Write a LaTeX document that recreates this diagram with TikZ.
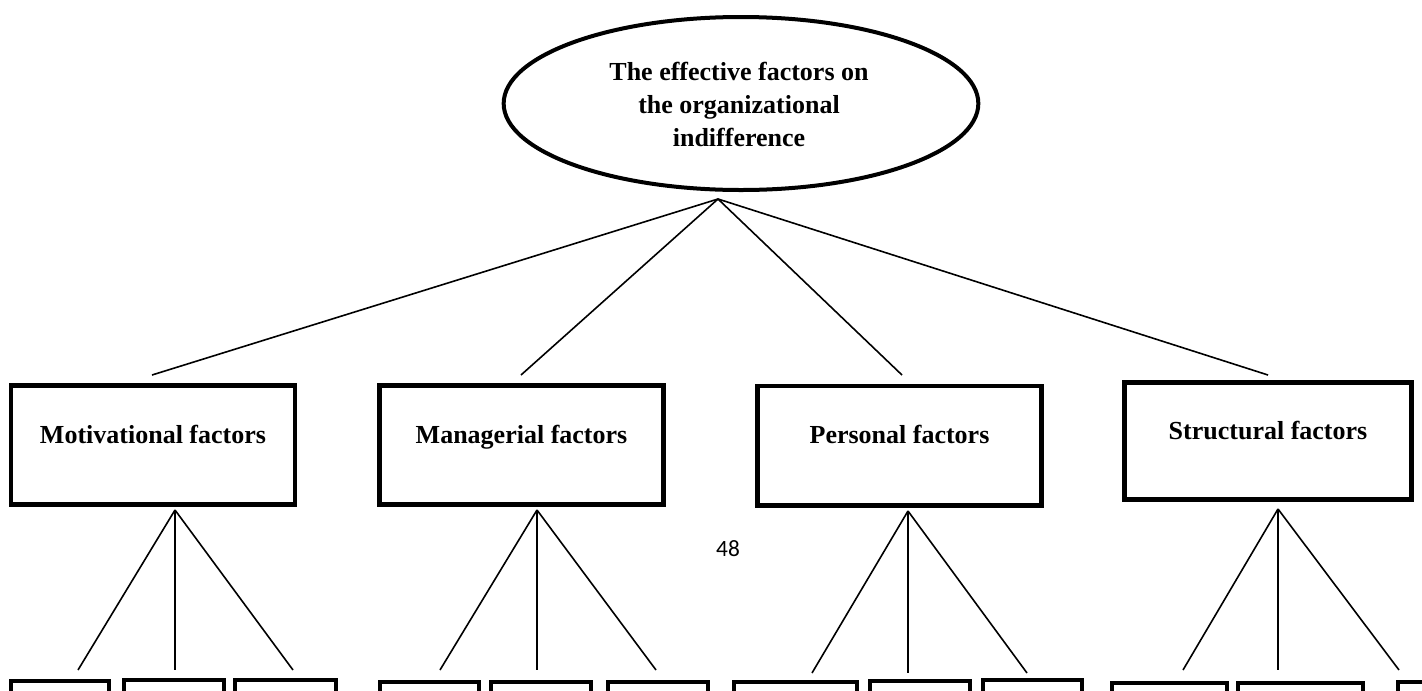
\documentclass[tikz,border=0pt]{standalone}
\usepackage{fontspec}
\setmainfont{Liberation Serif}
\newfontfamily\pagenumfont{Carlito}
\usetikzlibrary{shapes.geometric}
\begin{document}
\begin{tikzpicture}[x=0.75pt,y=-0.75pt,
  conn/.style={line width=1.2pt},
  topbox/.style={draw, line width=3.4pt, inner sep=0pt, minimum width=213pt, minimum height=89.6pt},
  leaf/.style={draw, line width=3pt, inner sep=0pt},
  lbl/.style={font=\fontsize{19.5pt}{24.75pt}\selectfont\bfseries, inner sep=0pt, anchor=base},
  oval/.style={draw, ellipse, line width=3pt, inner sep=0pt, minimum width=356pt, minimum height=129.75pt}]
\useasboundingbox (0,0) rectangle (1422,690);
\clip (0,0) rectangle (1422,690);
\fill[white] (0,0) rectangle (1422,690);

% root
\node[oval] (root) at (741,103.5) {};
\node[font=\fontsize{19.5pt}{24.75pt}\selectfont\bfseries, align=center, inner sep=0pt] (roottext) at (739,104)
  {The effective factors on\\the organizational\\indifference};
\coordinate (apex) at (718,199);

% level-1 boxes
\node[topbox] (mot) at (153,445) {};
\node[topbox] (man) at (521.5,445) {};
\node[topbox] (per) at (899.5,445.5) {};
\node[topbox, minimum width=215pt, minimum height=88pt] (str) at (1268,441) {};
\node[lbl] (mottext) at (153,443) {Motivational factors};
\node[lbl] (mantext) at (521.5,443) {Managerial factors};
\node[lbl] (pertext) at (899.5,443) {Personal factors};
\node[lbl] (strtext) at (1268,439) {Structural factors};

\coordinate (e1) at (152,375);
\coordinate (e2) at (521,375);
\coordinate (e3) at (902,375);
\coordinate (e4) at (1268,375);
\foreach \e in {e1,e2,e3,e4} \draw[conn] (apex) -- (\e);

% page number
\node[font=\pagenumfont\fontsize{17.5pt}{20pt}\selectfont, inner sep=0pt] (pagenum) at (728,549) {48};

% child apexes and ends
\coordinate (c1) at (175,510);
\coordinate (c2) at (537,510);
\coordinate (c3) at (908,511);
\coordinate (c4) at (1278,509);
\coordinate (c1a) at (78,670);   \coordinate (c1b) at (175,670);  \coordinate (c1c) at (293,670);
\coordinate (c2a) at (440,670);  \coordinate (c2b) at (537,670);  \coordinate (c2c) at (656,670);
\coordinate (c3a) at (812,673);  \coordinate (c3b) at (908,673);  \coordinate (c3c) at (1027,673);
\coordinate (c4a) at (1183,670); \coordinate (c4b) at (1278,670); \coordinate (c4c) at (1399,670);
\foreach \g in {1,2,3,4}{
  \draw[conn] (c\g) -- (c\g a);
  \draw[conn] (c\g) -- (c\g b);
  \draw[conn] (c\g) -- (c\g c);
}

% leaf boxes (cut off by the page edge)
\node[leaf, minimum width=73.5pt,  minimum height=44.25pt] (b1)  at (60,710.5) {};
\node[leaf, minimum width=75pt,    minimum height=45pt]    (b2)  at (174,710) {};
\node[leaf, minimum width=75.75pt, minimum height=45pt]    (b3)  at (285.5,710) {};
\node[leaf, minimum width=74.25pt, minimum height=43.5pt]  (b4)  at (429.5,711) {};
\node[leaf, minimum width=75pt,    minimum height=43.5pt]  (b5)  at (541,711) {};
\node[leaf, minimum width=75pt,    minimum height=43.5pt]  (b6)  at (658,711) {};
\node[leaf, minimum width=92.25pt, minimum height=43.5pt]  (b7)  at (795.5,711) {};
\node[leaf, minimum width=75pt,    minimum height=44.25pt] (b8)  at (920,710.5) {};
\node[leaf, minimum width=74.25pt, minimum height=45pt]    (b9)  at (1032.5,710) {};
\node[leaf, minimum width=86.25pt, minimum height=42.75pt] (b10) at (1169.5,711.5) {};
\node[leaf, minimum width=93.75pt, minimum height=42.75pt] (b11) at (1300.5,711.5) {};
\node[leaf, minimum width=75pt,    minimum height=43.5pt]  (b12) at (1448,711) {};
\end{tikzpicture}
\end{document}
